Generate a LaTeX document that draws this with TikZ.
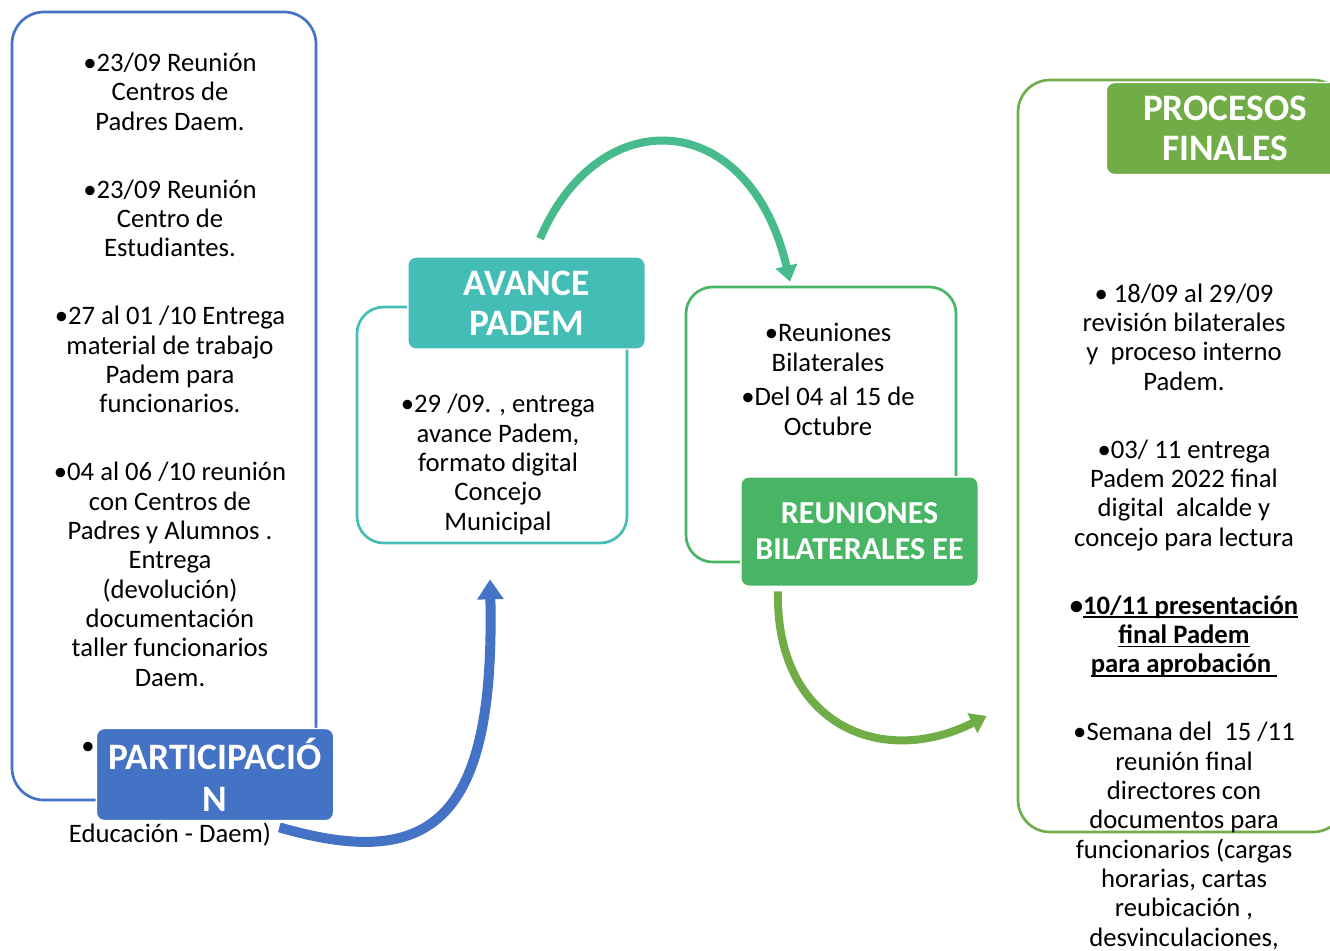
\documentclass[tikz,border=0pt]{standalone}
\usepackage{fontspec}
\setmainfont{Carlito}
\usepackage{tikz}
\usetikzlibrary{arrows.meta, positioning, fit, calc}
\definecolor{partblue}{HTML}{4472C4}
\definecolor{avteal}{HTML}{45BDB7}
\definecolor{arrteal}{HTML}{47BB8C}
\definecolor{reungreen}{HTML}{47B563}
\definecolor{procgreen}{HTML}{70AD47}
\newcommand{\uln}[1]{\setbox0\hbox{#1}\rlap{\rule[-3pt]{\wd0}{1.2pt}}\box0}

\begin{document}
\begin{tikzpicture}[x=0.75pt, y=-0.75pt,
  panel/.style={draw, line width=2pt, inner sep=0pt},
  head/.style={draw=white, line width=1pt, rounded corners=6pt, text=white,
    font=\fontsize{28pt}{30pt}\selectfont\bfseries, align=center,
    minimum width=178pt, minimum height=69pt, inner sep=0pt},
  body/.style={font=\fontsize{20pt}{22pt}\selectfont, align=center,
    anchor=base, inner sep=0pt},
  flow/.style={line width=6pt, -{Triangle[length=12pt, width=16pt]}}
]
\useasboundingbox (0,0) rectangle (1330,950);
\clip (0,0) rectangle (1330,950);

% panels
\node[panel, draw=partblue,  rounded corners=24pt, fit={(12,12) (316,800)}]    (P1) {};
\node[panel, draw=avteal,    rounded corners=20pt, fit={(357,307) (627,543)}]  (P2) {};
\node[panel, draw=reungreen, rounded corners=20pt, fit={(686,287) (956,562)}]  (P3) {};
\node[panel, draw=procgreen, rounded corners=24pt, fit={(1018,80) (1345,832)}] (P4) {};

% arrows between the stages
\coordinate (a1) at ($(P1.south east)+(-38,26)$);
\coordinate (a2) at ($(P2.south)+(-2,35)$);
\coordinate (t1) at ($(P2.north)+(48,-67)$);
\coordinate (t2) at ($(P3.north)+(-31,-4)$);
\coordinate (g1) at ($(P3.south)+(-43,28)$);
\coordinate (g2) at ($(P4.west)+(-30,260)$);
\draw[flow, draw=partblue, line width=7.5pt, -{Triangle[length=15pt, width=19pt]}]
  (a1) .. controls +(152,44) and +(5,242) .. (a2);
\draw[flow, draw=arrteal] (t1) .. controls +(60,-140) and +(-40,-173) .. (t2);
\draw[flow, draw=procgreen] (g1) .. controls +(-3,130) and +(-108,54) .. (g2);

% texts (anchored at the last line)
\node[body] (T1) at (170,686) {•23/09 Reunión\\Centros de\\Padres Daem.\\[29pt]
  •23/09 Reunión\\Centro de\\Estudiantes.\\[29pt]
  •27 al 01 /10 Entrega\\material de trabajo\\Padem para\\funcionarios.\\[29pt]
  •04 al 06 /10 reunión\\con Centros de\\Padres y Alumnos .\\Entrega\\(devolución)\\documentación\\taller funcionarios\\Daem.};
\node[body] (T1b) at (88,754) {•};
\node[body] (T1c) at (170,842) {Educación - Daem)};
\node[body] (T2) at (498,530) {•29 /09. , entrega\\avance Padem,\\formato digital\\Concejo\\Municipal};
\node[body] (T3) at (828,435) {•Reuniones\\Bilaterales\\[4pt]•Del 04 al 15 de\\Octubre};
\node[body] (T4) at (1184,946) {• 18/09 al 29/09\\revisión bilaterales\\y\ \ proceso interno\\Padem.\\[29pt]
  •03/ 11 entrega\\Padem 2022 final\\digital\ \ alcalde y\\concejo para lectura\\[29pt]
  \textbf{•\uln{10/11 presentación}}\\\textbf{\uln{final Padem}}\\\textbf{\uln{para aprobación\ }}\\[29pt]
  •Semana del\ \ 15 /11\\reunión final\\directores con\\documentos para\\funcionarios (cargas\\horarias, cartas\\reubicación ,\\desvinculaciones,};

% stage headers
\node[head, fill=partblue, font=\fontsize{28pt}{31.5pt}\selectfont\bfseries] (H1) at (215,774.5) {PARTICIPACIÓ\\N};
\node[head, fill=avteal] (H2) at (526.5,303) {AVANCE\\PADEM};
\node[head, fill=reungreen, minimum height=82pt, font=\fontsize{24pt}{27pt}\selectfont\bfseries] (H3) at (859.5,531.5) {REUNIONES\\BILATERALES EE};
\node[head, fill=procgreen] (H4) at (1225,128.5) {PROCESOS\\FINALES};
\end{tikzpicture}
\end{document}
